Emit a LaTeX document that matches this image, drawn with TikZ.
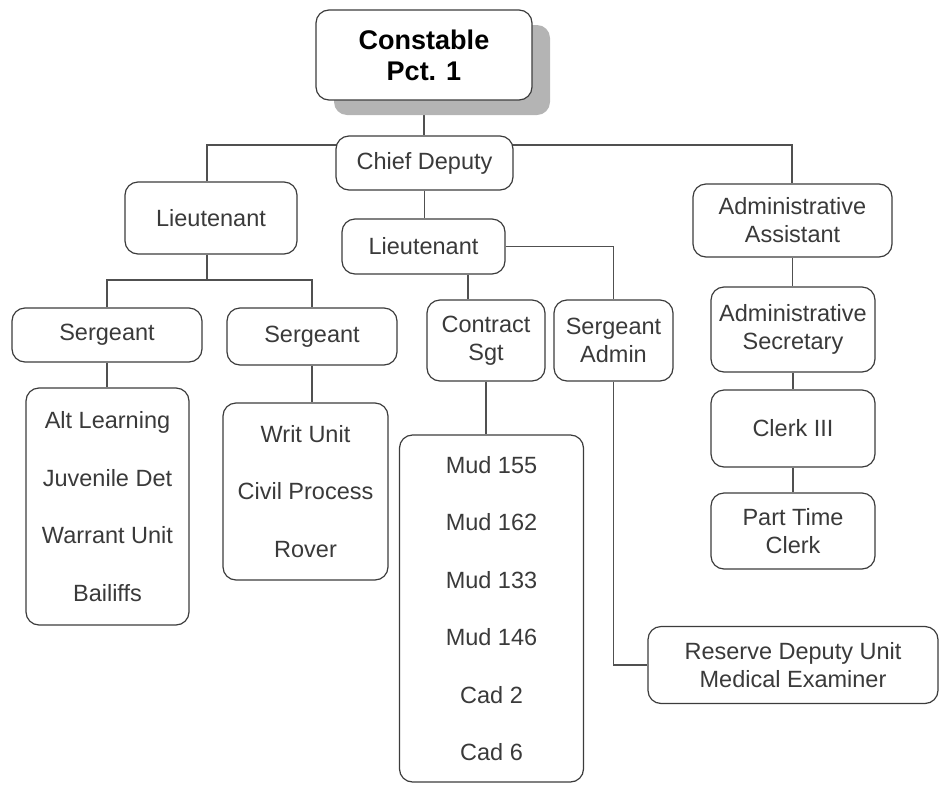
\documentclass[tikz,border=0pt]{standalone}
\usepackage{fontspec}
\setmainfont{Liberation Sans}
\usetikzlibrary{shadows}
\definecolor{edgegray}{HTML}{3C3C3C}
\definecolor{linkgray}{HTML}{505050}
\definecolor{textgray}{HTML}{3A3A3A}
\definecolor{shadowgray}{HTML}{B4B4B4}
\pgfdeclarelayer{background}
\pgfsetlayers{background,main}
\tikzset{
  box/.style={draw=edgegray, line width=1.2pt, fill=white, rounded corners=13pt,
    inner sep=0pt, align=center, text=textgray,
    font=\fontsize{23.5}{28}\selectfont},
  listbox/.style={box, font=\fontsize{23.5}{57.5}\selectfont},
  topbox/.style={box, text=black, font=\fontsize{27}{31}\selectfont\bfseries,
    drop shadow={shadow xshift=18pt, shadow yshift=-15pt, fill=shadowgray, opacity=1}},
  link/.style={draw=linkgray, line width=1.4pt},
}
\begin{document}
\begin{tikzpicture}[x=1pt,y=-1pt]
\useasboundingbox (0,0) rectangle (940,785);

% top of the chart
\node[topbox, minimum width=216pt, minimum height=90pt] (const) at (424,55) {Constable\\Pct. 1};
\node[box, minimum width=177pt, minimum height=54pt] (chief) at (424.5,163) {Chief Deputy};

% second level
\node[box, minimum width=172pt, minimum height=72pt] (lieuL) at (211,218) {Lieutenant};
\node[box, minimum width=163pt, minimum height=55pt] (lieuC) at (423.5,246.5) {Lieutenant};
\node[box, minimum width=199pt, minimum height=73pt] (admA) at (792.5,220.5) {Administrative\\Assistant};

% sergeants
\node[box, minimum width=190pt, minimum height=54pt] (sgtL) at (107,335) {Sergeant};
\node[box, minimum width=170pt, minimum height=57pt] (sgtR) at (312,336.5) {Sergeant};
\node[box, minimum width=118pt, minimum height=81pt] (contract) at (486,340.5) {Contract\\Sgt};
\node[box, minimum width=119pt, minimum height=81pt] (sgtAdmin) at (613.5,340.5) {Sergeant\\Admin};

% administrative column
\node[box, minimum width=164pt, minimum height=85pt] (admS) at (793,329.5) {Administrative\\Secretary};
\node[box, minimum width=164pt, minimum height=77pt] (clerk) at (793,428.5) {Clerk III};
\node[box, minimum width=164pt, minimum height=76pt] (ptc) at (793,531) {Part Time\\Clerk};

% unit lists
\node[listbox, minimum width=163pt, minimum height=237pt] (listL) at (107.5,506.5)
  {Alt Learning\\Juvenile Det\\Warrant Unit\\Bailiffs};
\node[listbox, minimum width=165pt, minimum height=177pt] (listR) at (305.5,491.5)
  {Writ Unit\\Civil Process\\Rover};
\node[listbox, minimum width=184pt, minimum height=347pt] (mud) at (491.5,608.5)
  {Mud 155\\Mud 162\\Mud 133\\Mud 146\\Cad 2\\Cad 6};
\node[box, minimum width=290pt, minimum height=77pt] (reserve) at (793,665)
  {Reserve Deputy Unit\\Medical Examiner};

% connectors
\coordinate (busL) at (207,145);
\coordinate (busR) at (792,145);
\coordinate (splitL) at (207,280);
\coordinate (contractX) at (468,0);
\begin{pgfonlayer}{background}
  \draw[link] (const.south) -- (const.south |- chief.north);
  \draw[link] (lieuL.north -| busL) -- (busL) -- (busR) -- (admA.north -| busR);
  \draw[link] (chief.south) -- (chief.south |- lieuC.north);
  \draw[link] (lieuL.south -| splitL) -- (splitL);
  \draw[link] (sgtL.north) |- (splitL) -| (sgtR.north);
  \draw[link] (sgtL.south) -- (sgtL.south |- listL.north);
  \draw[link] (sgtR.south) -- (sgtR.south |- listR.north);
  \draw[link] (lieuC.south -| contractX) -- (contract.north -| contractX);
  \draw[link] (lieuC.east) -| (sgtAdmin.north);
  \draw[link] (contract.south) -- (contract.south |- mud.north);
  \draw[link] (sgtAdmin.south) |- (reserve.west);
  \draw[link] (admA.south) -- (admA.south |- admS.north);
  \draw[link] (admS.south) -- (admS.south |- clerk.north);
  \draw[link] (clerk.south) -- (clerk.south |- ptc.north);
\end{pgfonlayer}
\end{tikzpicture}
\end{document}
